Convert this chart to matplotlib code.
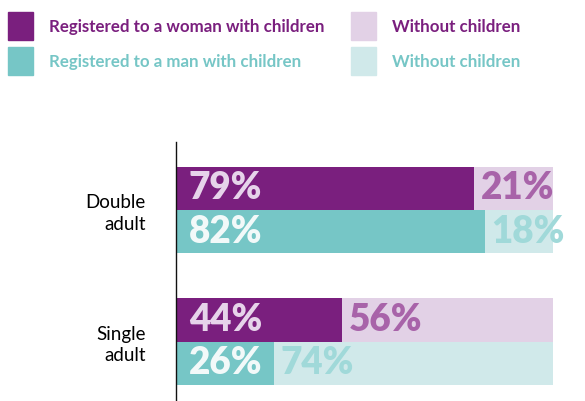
import numpy as np
import matplotlib.pyplot as plt
from matplotlib.patches import Rectangle

plt.rcParams['font.family'] = ['Lato', 'DejaVu Sans']

groups = ['Double\nadult', 'Single\nadult']
woman_with = [79, 44]
woman_without = [21, 56]
man_with = [82, 26]
man_without = [18, 74]

purple = '#7a1f7e'
purple_light = '#e2d1e6'
teal = '#76c6c6'
teal_light = '#d0e9ea'

fig = plt.figure(figsize=(5.85, 4.01), dpi=100)
W, H = 585, 401
ax = fig.add_axes([176 / W, 0, 377 / W, 1 - 142 / H])

y = np.arange(len(groups))
h = 0.33
ax.barh(y - h / 2, woman_with, height=h, color=purple)
ax.barh(y - h / 2, woman_without, left=woman_with, height=h, color=purple_light)
ax.barh(y + h / 2, man_with, height=h, color=teal)
ax.barh(y + h / 2, man_without, left=man_with, height=h, color=teal_light)

# value labels
for i in range(len(groups)):
    ax.annotate(f'{woman_with[i]}%', (0, y[i] - h / 2), xytext=(13, 0), textcoords='offset pixels',
                va='center', ha='left', fontsize=26.5, fontweight='heavy', color='#e6d3ea')
    ax.annotate(f'{woman_without[i]}%', (woman_with[i], y[i] - h / 2), xytext=(7, 0), textcoords='offset pixels',
                va='center', ha='left', fontsize=26.5, fontweight='heavy', color='#a863a9')
    ax.annotate(f'{man_with[i]}%', (0, y[i] + h / 2), xytext=(13, 0), textcoords='offset pixels',
                va='center', ha='left', fontsize=26.5, fontweight='heavy', color='#f2f9f9')
    ax.annotate(f'{man_without[i]}%', (man_with[i], y[i] + h / 2), xytext=(6, 0), textcoords='offset pixels',
                va='center', ha='left', fontsize=26.5, fontweight='heavy', color='#a0d9d9')

ax.set_xlim(0, 100)
ax.set_ylim(1.45, -0.516)
ax.set_yticks(y)
ax.set_yticklabels(groups, fontsize=13.5, ha='right', linespacing=1.3)
ax.tick_params(axis='y', length=0, pad=22)
ax.set_xticks([])
for s in ['top', 'right', 'bottom']:
    ax.spines[s].set_visible(False)
ax.spines['left'].set_color('#111111')
ax.spines['left'].set_linewidth(1)

# legend
legend_items = [
    (8, 12, purple, 'Registered to a woman with children', purple),
    (8, 47, teal, 'Registered to a man with children', teal),
    (351, 12, purple_light, 'Without children', purple),
    (351, 47, teal_light, 'Without children', teal),
]
for x0, y0, c, label, tc in legend_items:
    fig.patches.append(Rectangle((x0 / W, 1 - (y0 + 28) / H), 25 / W, 28 / H,
                                 transform=fig.transFigure, color=c))
    fig.text((x0 + 41) / W, 1 - (y0 + 15) / H, label, color=tc, fontsize=12.2,
             fontweight='bold', va='center', ha='left')

fig.savefig('out.png', dpi=100)
